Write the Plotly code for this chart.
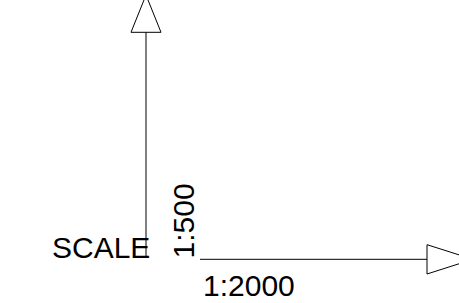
import plotly.graph_objects as go

# ---- drawing data (pixel-like drawing units, y grows downward) ----
title_text = "SCALE"
vertical_label = "1:500"
horizontal_label = "1:2000"

# vertical scale bar
v_line_x = [146, 146]
v_line_y = [32.3, 258]
v_arrow_x = [131, 161, 146, 131]
v_arrow_y = [32.3, 32.3, -5, 32.3]

# horizontal scale bar
h_line_x = [200, 427]
h_line_y = [259.3, 259.3]
h_arrow_x = [427, 427, 473, 427]
h_arrow_y = [244.7, 274, 259.3, 244.7]

# label anchor points
title_pos = (49.5, 247.5)
vlabel_pos = (183, 221.5)
hlabel_pos = (248.5, 285)

W, H = 459, 303
line_style = dict(color="#000000", width=1)

fig = go.Figure()
for xs, ys in [(v_line_x, v_line_y), (v_arrow_x, v_arrow_y),
               (h_line_x, h_line_y), (h_arrow_x, h_arrow_y)]:
    fig.add_trace(go.Scatter(x=xs, y=ys, mode="lines", line=line_style,
                             hoverinfo="skip", showlegend=False))

font = dict(family="Liberation Sans, Arial, sans-serif", size=30, color="#000000")
fig.add_annotation(x=title_pos[0], y=title_pos[1], text=title_text, showarrow=False,
                   xanchor="left", yanchor="middle", font=font)
fig.add_annotation(x=vlabel_pos[0], y=vlabel_pos[1], text=vertical_label, showarrow=False,
                   xanchor="center", yanchor="middle", textangle=-90, font=font)
fig.add_annotation(x=hlabel_pos[0], y=hlabel_pos[1], text=horizontal_label, showarrow=False,
                   xanchor="center", yanchor="middle", font=font)

fig.update_xaxes(range=[0, W], visible=False, fixedrange=True)
fig.update_yaxes(range=[H, 0], visible=False, fixedrange=True)
fig.update_layout(width=W, height=H, margin=dict(l=0, r=0, t=0, b=0),
                  paper_bgcolor="white", plot_bgcolor="white")

fig.write_html("out.html", config={"displayModeBar": False},
               post_script="document.body.style.margin='0';document.body.style.overflow='hidden';")
